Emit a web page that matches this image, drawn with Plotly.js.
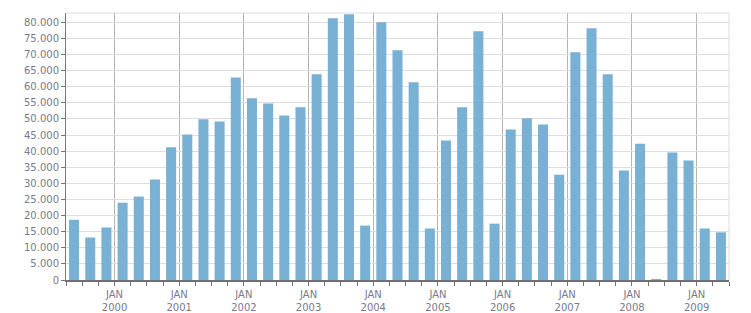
<!DOCTYPE html>
<html>
<head>
<meta charset="utf-8">
<script src="https://cdn.plot.ly/plotly-3.0.1.min.js"></script>
<style>html,body{margin:0;padding:0;background:#fff;}#chart{width:751px;height:313px;}</style>
</head>
<body>
<div id="chart"></div>
<script>
// Quarters from Q2 1999 to Q2 2009
const quarters = [
  "1999 Q2","1999 Q3","1999 Q4",
  "2000 Q1","2000 Q2","2000 Q3","2000 Q4",
  "2001 Q1","2001 Q2","2001 Q3","2001 Q4",
  "2002 Q1","2002 Q2","2002 Q3","2002 Q4",
  "2003 Q1","2003 Q2","2003 Q3","2003 Q4",
  "2004 Q1","2004 Q2","2004 Q3","2004 Q4",
  "2005 Q1","2005 Q2","2005 Q3","2005 Q4",
  "2006 Q1","2006 Q2","2006 Q3","2006 Q4",
  "2007 Q1","2007 Q2","2007 Q3","2007 Q4",
  "2008 Q1","2008 Q2","2008 Q3","2008 Q4",
  "2009 Q1","2009 Q2"
];
const values = [
  18700, 13200, 16300,
  24000, 25900, 31200, 41200,
  45200, 49900, 49200, 62900,
  56400, 54800, 51100, 53600,
  63900, 81300, 82500, 16900,
  80000, 71300, 61400, 16000,
  43300, 53600, 77200, 17500,
  46700, 50200, 48300, 32700,
  70700, 78200, 63900, 34000,
  42300, 300, 39600, 37100,
  16000, 14800
];
const yearLabels = ["2000","2001","2002","2003","2004","2005","2006","2007","2008","2009"];
const yTicks = [0,5000,10000,15000,20000,25000,30000,35000,40000,45000,50000,55000,60000,65000,70000,75000,80000];

const xIdx = quarters.map((q, i) => i);
// year boundaries sit between the Q4 and Q1 bars
const yearPos = yearLabels.map(y => quarters.indexOf(y + " Q1") - 0.5);
const yearText = yearLabels.map(y => "JAN<br>" + y);
const yText = yTicks.map(v => v.toLocaleString("de-DE"));

const fontFam = "DejaVu Sans, Verdana, sans-serif";
const labelColor = "#7a7a8a";

const trace = {
  type: "bar",
  x: xIdx,
  y: values,
  text: quarters,
  hoverinfo: "text+y",
  textposition: "none",
  marker: {color: "#78b1d3", line: {width: 0}},
  width: 0.62
};

const layout = {
  width: 751,
  height: 313,
  margin: {l: 66, r: 22, t: 13, b: 33, pad: 0},
  paper_bgcolor: "#ffffff",
  plot_bgcolor: "#ffffff",
  showlegend: false,
  bargap: 0.38,
  font: {family: fontFam, size: 10, color: labelColor},
  xaxis: {
    range: [-0.5, quarters.length - 0.5],
    tickmode: "array",
    tickvals: yearPos,
    ticktext: yearText,
    ticks: "outside",
    ticklen: 4,
    tickcolor: "#707070",
    tickwidth: 1,
    showgrid: true,
    gridcolor: "#b4b4b4",
    gridwidth: 1,
    showline: true,
    linecolor: "#707070",
    linewidth: 2,
    mirror: false,
    zeroline: false,
    tickfont: {family: fontFam, size: 10, color: labelColor},
    minor: {
      tickmode: "linear",
      tick0: -0.5,
      dtick: 1,
      ticks: "outside",
      ticklen: 4,
      tickcolor: "#707070",
      tickwidth: 1,
      showgrid: false
    },
    fixedrange: true
  },
  yaxis: {
    range: [0, 82900],
    tickmode: "array",
    tickvals: yTicks,
    ticktext: yText,
    ticks: "outside",
    ticklen: 4,
    tickcolor: "#777777",
    showgrid: true,
    gridcolor: "#dedede",
    gridwidth: 1,
    showline: true,
    linecolor: "#777777",
    linewidth: 1,
    zeroline: false,
    tickfont: {family: fontFam, size: 10, color: labelColor},
    fixedrange: true
  },
  shapes: [
    {type: "line", xref: "paper", yref: "paper", x0: 0, x1: 1, y0: 1, y1: 1, line: {color: "#dedede", width: 1}},
    {type: "line", xref: "paper", yref: "paper", x0: 1, x1: 1, y0: 0, y1: 1, line: {color: "#dedede", width: 1}}
  ]
};

Plotly.newPlot("chart", [trace], layout, {displayModeBar: false, staticPlot: true});
</script>
</body>
</html>
